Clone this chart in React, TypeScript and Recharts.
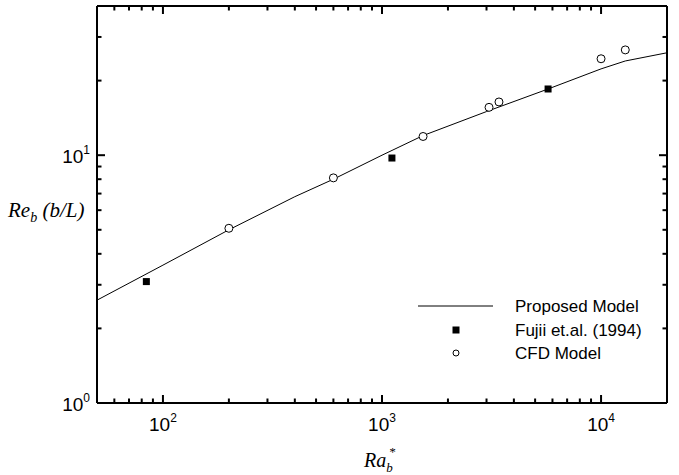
import React from 'react';
import { ComposedChart, Line, Scatter, XAxis, YAxis, Legend } from 'recharts';

// Proposed model curve
const modelRa = [50, 100, 200, 400, 600, 1000, 1540, 3000, 5730, 10000, 12900, 20000];
const modelRe = [2.6, 3.6, 5.0, 6.8, 8.0, 10.0, 12.0, 15.0, 18.5, 22.3, 24.0, 25.9];

// Fujii et.al. (1994)
const fujiiRa = [84, 1110, 5730];
const fujiiRe = [3.09, 9.74, 18.5];

// CFD model
const cfdRa = [200, 600, 1540, 3080, 3420, 10000, 12900];
const cfdRe = [5.07, 8.1, 11.9, 15.6, 16.4, 24.5, 26.6];

// axes
const xDomain = [50, 20000];
const yDomain = [1, 40];
const xMajor = [100, 1000, 10000];
const xMinor = [60, 70, 80, 90, 200, 300, 400, 500, 600, 700, 800, 900, 2000, 3000, 4000, 5000, 6000, 7000, 8000, 9000];
const yMajor = [1, 10];
const yMinor = [2, 3, 4, 5, 6, 7, 8, 9, 20, 30];

const seriesNames = ['Proposed Model', 'Fujii et.al. (1994)', 'CFD Model'];

const modelData = modelRa.map((x, i) => ({ x, y: modelRe[i] }));
const fujiiData = fujiiRa.map((x, i) => ({ x, y: fujiiRe[i] }));
const cfdData = cfdRa.map((x, i) => ({ x, y: cfdRe[i] }));
const xTicks = [...xMinor, ...xMajor].sort((a, b) => a - b);
const yTicks = [...yMinor, ...yMajor].sort((a, b) => a - b);

const SANS = '"Liberation Sans", Arial, Helvetica, sans-serif';
const SERIF = '"Liberation Serif", "Times New Roman", Times, serif';
const MAJ = 8;
const MIN = 4.5;
const TW = 2;

const exp = (v: number) => String(Math.round(Math.log10(v)));

const BottomTick = (props: any) => {
  const { x, y, payload } = props;
  const v = payload.value;
  const major = xMajor.includes(v);
  return (
    <g>
      <line x1={x} x2={x} y1={y} y2={y - (major ? MAJ : MIN)} stroke="#000" strokeWidth={TW} />
      {major && (
        <text x={x} y={y + 28} textAnchor="middle" fontSize={19} fontFamily={SANS} fill="#000">
          10<tspan dy={-9} fontSize={12}>{exp(v)}</tspan>
        </text>
      )}
    </g>
  );
};

const TopTick = (props: any) => {
  const { x, y, payload } = props;
  const major = xMajor.includes(payload.value);
  return <line x1={x} x2={x} y1={y} y2={y + (major ? MAJ : MIN)} stroke="#000" strokeWidth={TW} />;
};

const LeftTick = (props: any) => {
  const { x, y, payload } = props;
  const v = payload.value;
  const major = yMajor.includes(v);
  return (
    <g>
      <line x1={x} x2={x + (major ? MAJ : MIN)} y1={y} y2={y} stroke="#000" strokeWidth={TW} />
      {major && (
        <text x={x - 7} y={y + 8} textAnchor="end" fontSize={19} fontFamily={SANS} fill="#000">
          10<tspan dy={-9} fontSize={12}>{exp(v)}</tspan>
        </text>
      )}
    </g>
  );
};

const RightTick = (props: any) => {
  const { x, y, payload } = props;
  const major = yMajor.includes(payload.value);
  return <line x1={x} x2={x - (major ? MAJ : MIN)} y1={y} y2={y} stroke="#000" strokeWidth={TW} />;
};

const SquareShape = (props: any) => {
  const { cx, cy } = props;
  return <rect x={cx - 3.5} y={cy - 3.5} width={7} height={7} fill="#000" />;
};

const CircleShape = (props: any) => {
  const { cx, cy } = props;
  return <circle cx={cx} cy={cy} r={4} fill="#fff" stroke="#000" strokeWidth={1} />;
};

const renderLegend = () => (
  <svg width={270} height={80} style={{ display: 'block' }}>
    <line x1={8} x2={83} y1={12} y2={12} stroke="#000" strokeWidth={1} />
    <text x={105} y={18} fontSize={17} fontFamily={SANS} fill="#000">{seriesNames[0]}</text>
    <rect x={42.5} y={32.5} width={7} height={7} fill="#000" />
    <text x={105} y={42} fontSize={17} fontFamily={SANS} fill="#000">{seriesNames[1]}</text>
    <circle cx={46} cy={59} r={3} fill="#fff" stroke="#000" strokeWidth={1} />
    <text x={105} y={65} fontSize={17} fontFamily={SANS} fill="#000">{seriesNames[2]}</text>
  </svg>
);

const XLabel = () => (
  <text x={364} y={467} fontFamily={SERIF} fontStyle="italic" fontSize={20} fill="#000">
    Ra<tspan dy={5} fontSize={13}>b</tspan>
    <tspan dx={-4} dy={-16} fontSize={13}>*</tspan>
  </text>
);

const YLabel = () => (
  <text x={8} y={217} fontFamily={SERIF} fontStyle="italic" fontSize={21} fill="#000">
    Re<tspan dy={5} fontSize={14}>b</tspan>
    <tspan dy={-5}> (b/L)</tspan>
  </text>
);

export default function App() {
  return (
    <div style={{ position: 'absolute', left: 0, top: 0, background: '#fff' }}>
      <ComposedChart width={679} height={475} margin={{ top: 0, right: 0, bottom: 0, left: 0 }}>
        <XAxis
          xAxisId="b"
          dataKey="x"
          type="number"
          scale="log"
          domain={xDomain}
          ticks={xTicks}
          interval={0}
          allowDataOverflow
          height={72}
          tickSize={0}
          tickMargin={0}
          tickLine={false}
          tick={<BottomTick />}
          axisLine={{ stroke: '#000', strokeWidth: 2 }}
          label={{ content: () => <XLabel /> }}
        />
        <XAxis
          xAxisId="t"
          orientation="top"
          dataKey="x"
          type="number"
          scale="log"
          domain={xDomain}
          ticks={xTicks}
          interval={0}
          allowDataOverflow
          height={6}
          tickSize={0}
          tickMargin={0}
          tickLine={false}
          tick={<TopTick />}
          axisLine={{ stroke: '#000', strokeWidth: 2 }}
        />
        <YAxis
          yAxisId="l"
          type="number"
          scale="log"
          domain={yDomain}
          ticks={yTicks}
          interval={0}
          allowDataOverflow
          width={97}
          tickSize={0}
          tickMargin={0}
          tickLine={false}
          tick={<LeftTick />}
          axisLine={{ stroke: '#000', strokeWidth: 2 }}
          label={{ content: () => <YLabel /> }}
        />
        <YAxis
          yAxisId="r"
          orientation="right"
          type="number"
          scale="log"
          domain={yDomain}
          ticks={yTicks}
          interval={0}
          allowDataOverflow
          width={12}
          tickSize={0}
          tickMargin={0}
          tickLine={false}
          tick={<RightTick />}
          axisLine={{ stroke: '#000', strokeWidth: 2 }}
        />
        <Legend
          layout="vertical"
          align="center"
          verticalAlign="middle"
          content={renderLegend}
          wrapperStyle={{ position: 'absolute', left: 410, top: 294, width: 270, height: 80 }}
        />
        <Line
          xAxisId="b"
          yAxisId="l"
          data={modelData}
          dataKey="y"
          name={seriesNames[0]}
          type="linear"
          stroke="#000"
          strokeWidth={1}
          dot={false}
          activeDot={false}
          isAnimationActive={false}
        />
        <Scatter
          xAxisId="b"
          yAxisId="l"
          data={fujiiData}
          dataKey="y"
          name={seriesNames[1]}
          shape={<SquareShape />}
          isAnimationActive={false}
        />
        <Scatter
          xAxisId="b"
          yAxisId="l"
          data={cfdData}
          dataKey="y"
          name={seriesNames[2]}
          shape={<CircleShape />}
          isAnimationActive={false}
        />
      </ComposedChart>
    </div>
  );
}
